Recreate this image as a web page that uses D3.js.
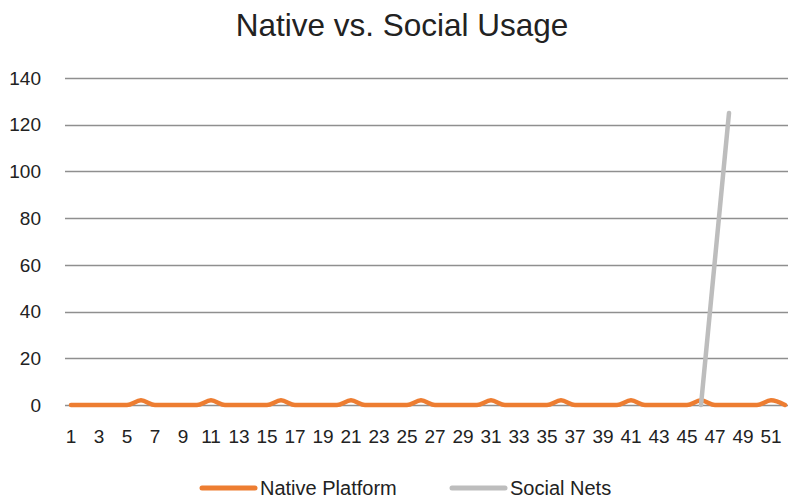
<!DOCTYPE html>
<html>
<head>
<meta charset="utf-8">
<script src="https://cdn.jsdelivr.net/npm/d3@7"></script>
<style>
  body { margin: 0; background: #fff; }
  text { font-family: Arial, "Liberation Sans", sans-serif; fill: #222; }
</style>
</head>
<body>
<div id="chart"></div>
<script>

// categories 1..52
var weeks = d3.range(1, 53);
var xTickLabels = weeks.filter(function(d) { return d % 2 === 1; });
var yTicks = [0, 20, 40, 60, 80, 100, 120, 140];

var nativeValues = [0,0,0,0,0,2,0,0,0,0,2,0,0,0,0,2,0,0,0,0,2,0,0,0,0,2,
                    0,0,0,0,2,0,0,0,0,2,0,0,0,0,2,0,0,0,0,2,0,0,0,0,2,0];
// only weeks 46 and 48 have a value; the rest are blank
var socialValues = weeks.map(function(w) {
	if (w === 46) return 0;
	if (w === 48) return 125;
	return null;
});

var seriesNames = ["Native Platform", "Social Nets"];
var seriesColors = ["#ED7D31", "#BDBDBD"];

var width = 788, height = 498;

var svg = d3.select("#chart").append("svg")
			.attr("width", width)
			.attr("height", height);

var x = d3.scalePoint()
			.domain(weeks)
			.range([64, 792])
			.padding(0.5);

var y = d3.scaleLinear()
			.domain([0, 140])
			.range([405, 78]);

// title
svg.append("text")
	.attr("x", 402)
	.attr("y", 36)
	.attr("text-anchor", "middle")
	.style("font-size", "31.5px")
	.text("Native vs. Social Usage");

// gridlines
svg.append("g").selectAll("line")
	.data(yTicks)
	.enter()
	.append("line")
	.attr("x1", 65)
	.attr("x2", width)
	.attr("y1", function(d) { return Math.round(y(d)) + 0.5; })
	.attr("y2", function(d) { return Math.round(y(d)) + 0.5; })
	.attr("stroke", "#8f8f8f")
	.attr("stroke-width", 1.3);

// y labels
svg.append("g").selectAll("text")
	.data(yTicks)
	.enter()
	.append("text")
	.attr("x", 41)
	.attr("y", function(d) { return y(d); })
	.attr("dy", "0.35em")
	.attr("text-anchor", "end")
	.style("font-size", "19px")
	.text(function(d) { return d; });

// x labels
svg.append("g").selectAll("text")
	.data(xTickLabels)
	.enter()
	.append("text")
	.attr("x", function(d) { return x(d); })
	.attr("y", 443)
	.attr("text-anchor", "middle")
	.style("font-size", "19px")
	.text(function(d) { return d; });

// lines
var line = d3.line()
			.x(function(d) { return x(d.week); })
			.y(function(d) { return y(d.value); })
			.curve(d3.curveMonotoneX);

var nativeData = weeks.map(function(w, i) { return {week: w, value: nativeValues[i]}; });
// blanks are skipped and the remaining points joined
var socialData = weeks.map(function(w, i) { return {week: w, value: socialValues[i]}; })
			.filter(function(d) { return d.value !== null; });

svg.append("path")
	.datum(nativeData)
	.attr("fill", "none")
	.attr("stroke", seriesColors[0])
	.attr("stroke-width", 4.5)
	.attr("stroke-linecap", "round")
	.attr("stroke-linejoin", "round")
	.attr("d", line);

svg.append("path")
	.datum(socialData)
	.attr("fill", "none")
	.attr("stroke", seriesColors[1])
	.attr("stroke-width", 4.5)
	.attr("stroke-linecap", "round")
	.attr("stroke-linejoin", "round")
	.attr("d", d3.line()
			.x(function(d) { return x(d.week); })
			.y(function(d) { return y(d.value); }));

// legend
var legendX = [200, 450];
var legend = svg.append("g").selectAll("g")
			.data(seriesNames)
			.enter()
			.append("g")
			.attr("transform", function(d, i) { return "translate(" + legendX[i] + ",488)"; });

legend.append("line")
	.attr("x1", 2)
	.attr("x2", 55)
	.attr("stroke", function(d, i) { return seriesColors[i]; })
	.attr("stroke-width", 5)
	.attr("stroke-linecap", "round");

legend.append("text")
	.attr("x", 60)
	.attr("y", 7)
	.style("font-size", "20px")
	.text(function(d) { return d; });

</script>
</body>
</html>
